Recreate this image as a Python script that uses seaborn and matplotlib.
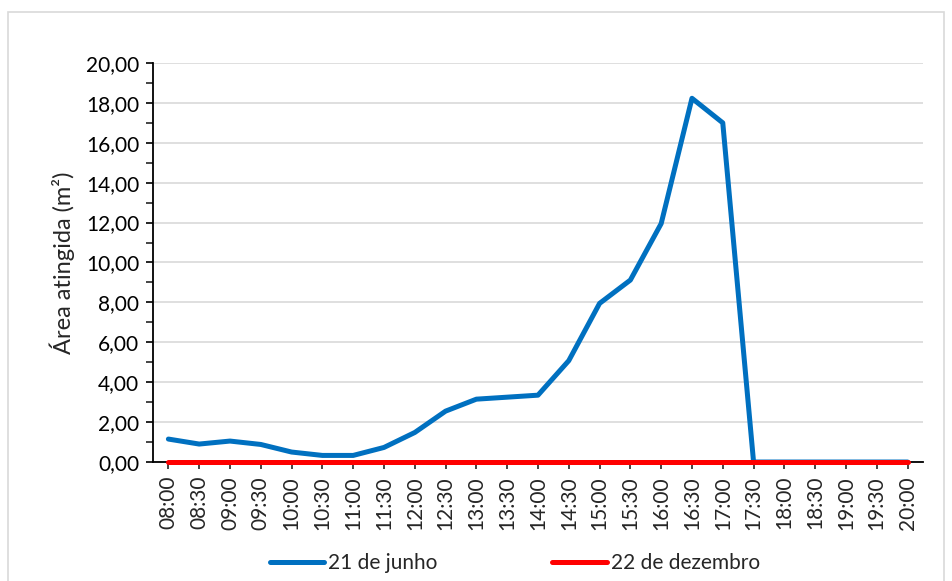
import matplotlib
matplotlib.use("Agg")
import matplotlib.pyplot as plt
import seaborn as sns
import pandas as pd
from matplotlib.ticker import MultipleLocator, FuncFormatter
from matplotlib.patches import Rectangle
from matplotlib.lines import Line2D

horarios = ['08:00', '08:30', '09:00', '09:30', '10:00', '10:30', '11:00', '11:30',
            '12:00', '12:30', '13:00', '13:30', '14:00', '14:30', '15:00', '15:30',
            '16:00', '16:30', '17:00', '17:30', '18:00', '18:30', '19:00', '19:30', '20:00']
junho = [1.15, 0.90, 1.05, 0.88, 0.50, 0.33, 0.33, 0.73, 1.48, 2.55, 3.15, 3.25, 3.35,
         5.08, 7.95, 9.12, 11.95, 18.23, 17.00, 0.0, 0.0, 0.0, 0.0, 0.0, 0.0]
dezembro = [0.0] * 25

df = pd.DataFrame({
    'hora': horarios * 2,
    'area': junho + dezembro,
    'serie': ['21 de junho'] * 25 + ['22 de dezembro'] * 25,
})

sns.set_style('white')
plt.rcParams['font.family'] = ['Lato', 'DejaVu Sans']

fig = plt.figure(figsize=(9.52, 5.81), dpi=100)
ax = fig.add_axes([0.1607, 0.2048, 0.8088, 0.6868])

sns.lineplot(data=df, x='hora', y='area', hue='serie', sort=False,
             palette={'21 de junho': '#0070C0', '22 de dezembro': '#FF0000'},
             linewidth=3.6, ax=ax, legend=False)
for i, ln in enumerate(ax.get_lines()):
    ln.set_clip_on(False)
    ln.set_zorder(5 + i)
    ln.set_solid_capstyle('round')

ax.set_xlim(-0.5, 24.5)
ax.set_ylim(0, 20)
ax.yaxis.set_major_locator(MultipleLocator(2))
ax.yaxis.set_minor_locator(MultipleLocator(1))
ax.yaxis.set_major_formatter(FuncFormatter(lambda v, p: f'{v:.2f}'.replace('.', ',')))
ax.grid(axis='y', color='#d9d9d9', linewidth=1.2)
ax.set_axisbelow(True)

for s in ['top', 'right']:
    ax.spines[s].set_visible(False)
for s in ['left', 'bottom']:
    ax.spines[s].set_color('black')
    ax.spines[s].set_linewidth(1.3)

ax.tick_params(axis='y', which='major', direction='out', length=5, width=1.2,
               labelsize=15, colors='black', left=True, pad=5)
ax.tick_params(axis='y', which='minor', direction='out', length=5, width=1.2, left=True)
ax.tick_params(axis='x', direction='out', length=5, width=1.2, labelsize=15,
               labelrotation=90, bottom=True, pad=5)
ax.set_xlabel('')
ax.set_ylabel('Área atingida (m²)', fontsize=17, labelpad=8)

handles = [Line2D([], [], color='#0070C0', lw=3.6), Line2D([], [], color='#FF0000', lw=3.6)]
fig.legend(handles, ['21 de junho', '22 de dezembro'], loc='center', ncol=2,
           bbox_to_anchor=(0.541, 0.031), frameon=False, fontsize=15,
           handlelength=2.6, handletextpad=0.2, columnspacing=5.5)

fig.patches.append(Rectangle((8 / 952, -0.01), (944 - 8) / 952, 1 - 12 / 581 + 0.01,
                             transform=fig.transFigure, fill=False,
                             edgecolor='#d9d9d9', linewidth=1.2))

fig.savefig('out.png', dpi=100)
